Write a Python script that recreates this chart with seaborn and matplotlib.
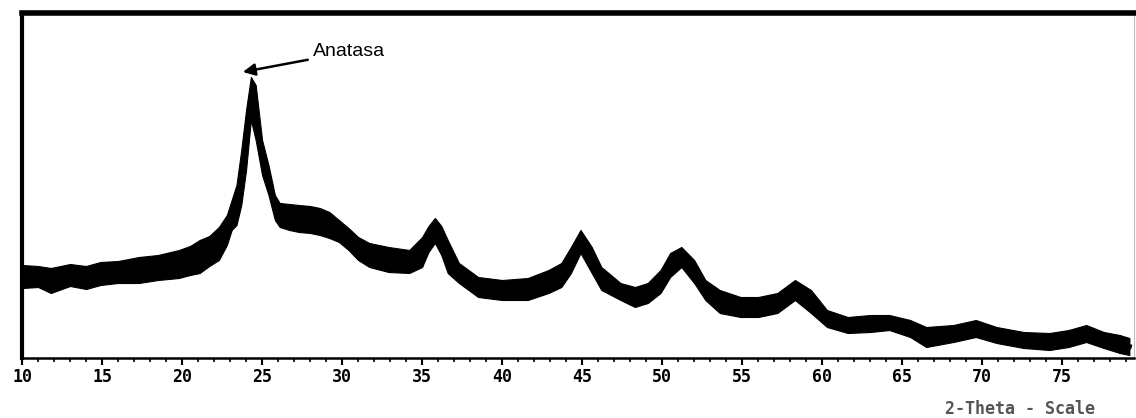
import matplotlib
matplotlib.use("Agg")
import matplotlib.pyplot as plt
import numpy as np
import pandas as pd
import seaborn as sns

# XRD pattern: upper and lower edge of the noisy trace
two_theta = [10.0, 11.0, 11.8, 13.0, 14.0, 14.9, 16.0, 17.3, 18.5, 19.8,
             20.5, 21.1, 21.7, 22.3, 22.8, 23.1, 23.4, 23.7, 24.0, 24.3,
             24.6, 25.0, 25.4, 25.8, 26.1, 26.7, 27.3, 28.0, 28.6, 29.2,
             29.8, 30.4, 31.0, 31.7, 32.9, 34.2, 35.0, 35.4, 35.8, 36.2,
             36.6, 37.3, 38.5, 40.0, 41.6, 42.9, 43.7, 44.3, 44.9, 45.6,
             46.2, 47.4, 48.3, 49.1, 49.9, 50.5, 51.2, 52.0, 52.7, 53.6,
             54.9, 56.0, 57.2, 58.3, 59.3, 60.3, 61.6, 63.0, 64.2, 65.5,
             66.5, 68.2, 69.6, 70.9, 72.6, 74.2, 75.4, 76.5, 77.6, 78.6, 79.2]
upper = [93, 92, 90, 94, 92, 96, 97, 101, 103, 108,
         112, 118, 122, 131, 143, 158, 173, 208, 248, 281,
         273, 218, 193, 163, 155, 154, 153, 152, 150, 146,
         138, 130, 121, 115, 111, 108, 121, 132, 140, 132,
         118, 95, 81, 78, 80, 88, 95, 111, 128, 111,
         91, 75, 71, 75, 88, 105, 111, 98, 78, 68,
         61, 61, 65, 78, 68, 48, 41, 43, 43, 38,
         31, 33, 38, 31, 26, 25, 28, 33, 26, 23, 20]
lower = [70, 71, 65, 72, 69, 73, 75, 75, 78, 80,
         83, 85, 92, 98, 113, 128, 133, 153, 188, 238,
         218, 183, 163, 138, 131, 128, 126, 125, 123, 120,
         116, 108, 98, 91, 86, 85, 91, 106, 115, 103,
         85, 75, 61, 58, 58, 65, 71, 85, 105, 85,
         68, 58, 51, 55, 65, 81, 91, 75, 58, 45,
         41, 41, 45, 58, 45, 31, 25, 26, 28, 21,
         11, 16, 21, 15, 10, 8, 11, 16, 10, 5, 3]
tick_values = [10, 15, 20, 25, 30, 35, 40, 45, 50, 55, 60, 65, 70, 75]
peak_label = "Anatasa"
peak_pos = (23.8, 286)

df = pd.DataFrame({"two_theta": two_theta + two_theta,
                   "intensity": upper + lower})

fig = plt.figure(figsize=(11.36, 4.18), dpi=100)
ax = fig.add_axes([0.0194, 0.1435, 0.979, 0.8255])

sns.lineplot(data=df, x="two_theta", y="intensity", estimator="mean",
             errorbar=("pi", 100), color="black", linewidth=3.5, ax=ax,
             err_kws={"alpha": 1, "linewidth": 0.8, "edgecolor": "black"})

ax.set_xlim(10, 79.5)
ax.set_ylim(0, 345)
ax.set_xticks(tick_values)
ax.set_xticks(np.arange(10, 80, 1), minor=True)
ax.set_xticklabels([str(t) for t in tick_values],
                   fontfamily="DejaVu Sans Mono", fontweight="bold", fontsize=12)
ax.set_yticks([])
ax.tick_params(axis="x", which="major", length=5, width=1.5, direction="out", pad=2)
ax.tick_params(axis="x", which="minor", length=3, width=1.2, direction="out")
ax.set_xlabel("")
ax.set_ylabel("")

ax.spines["top"].set_linewidth(4)
ax.spines["left"].set_linewidth(3)
ax.spines["bottom"].set_linewidth(1.8)
ax.spines["right"].set_linewidth(0.8)
ax.spines["right"].set_color("#bbbbbb")

ax.annotate(peak_label, xy=peak_pos, xytext=(28.2, 306),
            ha="left", va="center", fontsize=14, family="Liberation Sans",
            arrowprops=dict(arrowstyle="-|>", color="black", lw=1.8,
                            mutation_scale=18, shrinkA=2, shrinkB=0))

fig.text(1020 / 1136, 1 - 409 / 418, "2-Theta - Scale", ha="center", va="center",
         fontsize=12, fontfamily="DejaVu Sans Mono", fontweight="bold", color="#555555")

fig.savefig("out.png", dpi=100)
